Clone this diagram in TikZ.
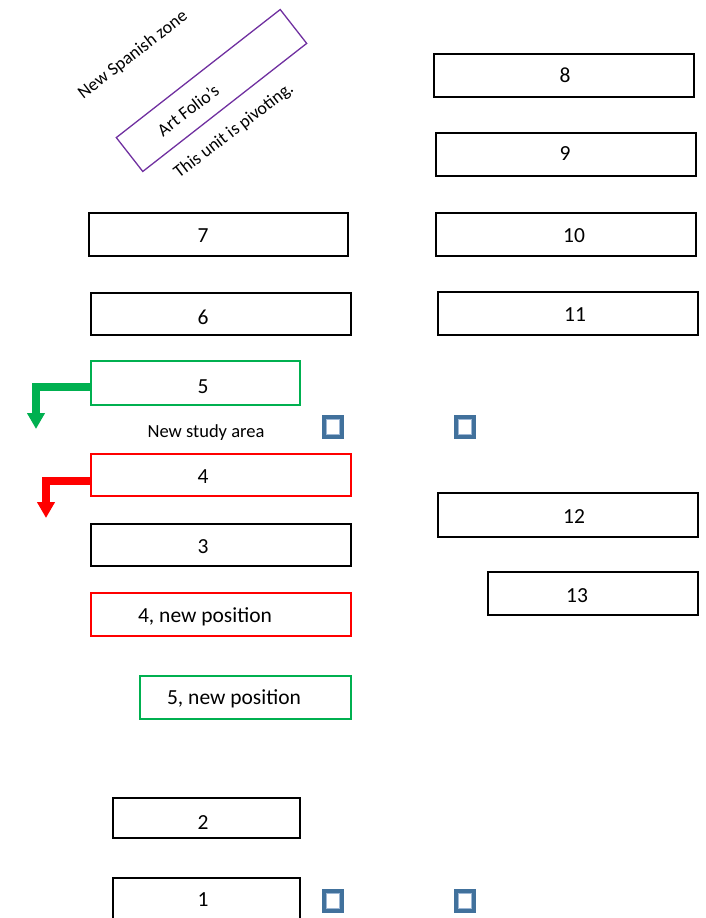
\documentclass[tikz,border=0pt]{standalone}
\usepackage{fontspec}
\setmainfont{Carlito}
\usetikzlibrary{arrows.meta}
\definecolor{grn}{HTML}{00B050}
\definecolor{rd}{HTML}{FF0000}
\definecolor{prp}{HTML}{7030A0}
\definecolor{iconblue}{HTML}{41719C}
\definecolor{iconlight}{HTML}{9DB7D5}
\tikzset{
  unitbox/.style={draw=black, line width=1.8pt, inner sep=0pt},
  greenbox/.style={draw=grn, line width=1.5pt, inner sep=0pt},
  redbox/.style={draw=rd, line width=1.5pt, inner sep=0pt},
  boxlabel/.style={font=\fontsize{21.5}{24}\selectfont, inner sep=0pt},
  tilted/.style={rotate=37.5, font=\fontsize{18}{21}\selectfont, inner sep=0pt},
  movearrow/.style={line width=8pt, -{Triangle[width=17pt,length=16pt]}},
  chk/.style={fill=iconblue, minimum width=22pt, minimum height=24pt, inner sep=0pt,
    path picture={\draw[iconlight, fill=white, line width=1.2pt]
      ([shift={(-6.5pt,-7.5pt)}]path picture bounding box.center) rectangle
      ([shift={(6.5pt,7.5pt)}]path picture bounding box.center);}},
}
\begin{document}
\begin{tikzpicture}[x=1pt,y=-1pt]
\useasboundingbox (0,0) rectangle (705,918);

% right-hand column
\node[unitbox, minimum width=260pt, minimum height=43pt] (b8)  at (564,75.5)  {};
\node[unitbox, minimum width=260pt, minimum height=43pt] (b9)  at (566,154.5) {};
\node[unitbox, minimum width=260pt, minimum height=43pt] (b10) at (566,234.5) {};
\node[unitbox, minimum width=260pt, minimum height=43pt] (b11) at (568,313.5) {};
\node[unitbox, minimum width=260pt, minimum height=44pt] (b12) at (568,515)   {};
\node[unitbox, minimum width=210pt, minimum height=43pt] (b13) at (593,593.5) {};
\node[boxlabel] (t8)  at (565,75)  {8};
\node[boxlabel] (t9)  at (565,154) {9};
\node[boxlabel] (t10) at (574,236) {10};
\node[boxlabel] (t11) at (575,315) {11};
\node[boxlabel] (t12) at (574,517) {12};
\node[boxlabel] (t13) at (577,596) {13};

% left-hand column
\node[unitbox, minimum width=259pt, minimum height=43pt] (b7) at (218.5,234.5) {};
\node[unitbox, minimum width=260pt, minimum height=42pt] (b6) at (221,314)     {};
\node[greenbox, minimum width=209pt, minimum height=44pt] (b5) at (195.5,383)  {};
\node[redbox, minimum width=260pt, minimum height=42pt] (b4) at (221,475)      {};
\node[unitbox, minimum width=260pt, minimum height=42pt] (b3) at (221,545)     {};
\node[redbox, minimum width=260pt, minimum height=43pt] (b4n) at (221,614.5)   {};
\node[greenbox, minimum width=211pt, minimum height=43pt] (b5n) at (245.5,697.5) {};
\node[unitbox, minimum width=187pt, minimum height=40pt] (b2) at (206.5,818)   {};
\node[unitbox, minimum width=187pt, minimum height=44pt] (b1) at (206.5,900)   {};
\node[boxlabel] (t7)  at (203,236) {7};
\node[boxlabel] (t6)  at (203,317) {6};
\node[boxlabel] (t5)  at (203,387) {5};
\node[boxlabel] (t4)  at (203,477) {4};
\node[boxlabel] (t3)  at (203,547) {3};
\node[boxlabel] (t4n) at (205,617) {4, new position};
\node[boxlabel] (t5n) at (234,699) {5, new position};
\node[boxlabel] (t2)  at (203,823) {2};
\node[boxlabel] (t1)  at (203,900) {1};

\node[font=\fontsize{18.5}{21}\selectfont, inner sep=0pt] (study) at (206,433) {New study area};

% small square markers
\node[chk] (q1) at (333,427) {};
\node[chk] (q2) at (465,427) {};
\node[chk] (q3) at (333,901) {};
\node[chk] (q4) at (465,901) {};

% bent move arrows
\coordinate (g end) at (36,429);
\coordinate (r end) at (46,518);
\draw[movearrow, grn] ([yshift=-4pt]b5.west) -| (g end);
\draw[movearrow, rd] ([yshift=-5.5pt]b4.west) -| (r end);

% tilted unit with notes
\node[draw=prp, line width=1.3pt, rotate=38, minimum width=208pt, minimum height=43pt, inner sep=0pt] (art) at (211.5,90.5) {};
\node[tilted] (artlbl) at (188,110) {Art Folio’s};
\node[tilted] (spanish) at (133,55) {New Spanish zone};
\node[tilted] (pivot) at (234,131) {This unit is pivoting.};
\end{tikzpicture}
\end{document}
